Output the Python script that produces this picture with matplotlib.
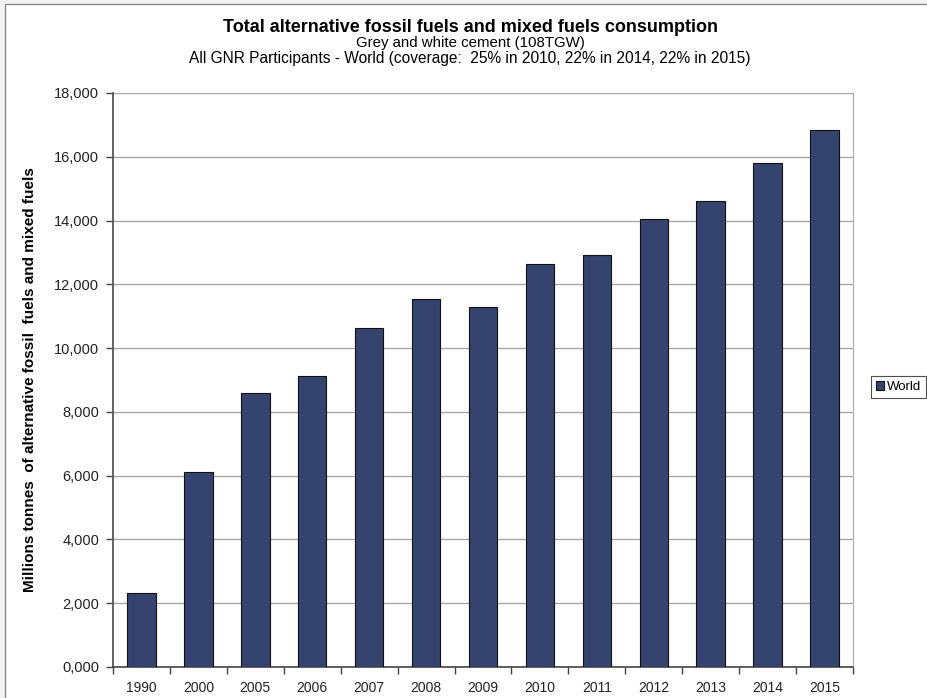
import matplotlib
matplotlib.use("Agg")
import matplotlib.pyplot as plt
from matplotlib.patches import Rectangle
from matplotlib.ticker import FixedLocator

plt.rcParams['font.family'] = ['Liberation Sans', 'DejaVu Sans']

years = ["1990", "2000", "2005", "2006", "2007", "2008", "2009",
         "2010", "2011", "2012", "2013", "2014", "2015"]
world = [2320, 6100, 8585, 9125, 10625, 11530, 11280,
         12640, 12930, 14040, 14620, 15790, 16840]
y_ticks = [0, 2000, 4000, 6000, 8000, 10000, 12000, 14000, 16000, 18000]
y_labels = ["0,000", "2,000", "4,000", "6,000", "8,000", "10,000",
            "12,000", "14,000", "16,000", "18,000"]

title = "Total alternative fossil fuels and mixed fuels consumption"
subtitle1 = "Grey and white cement (108TGW)"
subtitle2 = "All GNR Participants - World (coverage:  25% in 2010, 22% in 2014, 22% in 2015)"
ylabel = "Millions tonnes  of alternative fossil  fuels and mixed fuels"

W, H = 927, 698
fig = plt.figure(figsize=(W / 100, H / 100), dpi=100)
fig.patch.set_facecolor("#f3f3f3")

# white chart area with grey border
fig.patches.append(Rectangle((5 / W, -0.01), 1.0, (H - 4) / H + 0.01,
                             transform=fig.transFigure, facecolor="white",
                             edgecolor="#8c8c8c", linewidth=1.0, zorder=-5))

ax = fig.add_axes([113 / W, (H - 667) / H, (853 - 113) / W, (667 - 93) / H])
ax.set_zorder(3)
ax.set_facecolor("white")

x = list(range(len(years)))
ax.bar(x, world, width=0.5, color="#34446e", edgecolor="#111111",
       linewidth=0.8, label="World", zorder=3)

ax.set_xlim(-0.5, len(years) - 0.5)
ax.set_ylim(0, 18000)
ax.set_yticks(y_ticks)
ax.set_yticklabels(y_labels, fontsize=10.5, color="#222222")
ax.yaxis.grid(True, color="#a8a8a8", linewidth=1.0, zorder=0)

ax.set_xticks(x)
ax.set_xticklabels(years, fontsize=10, color="#222222")
ax.tick_params(axis='x', which='major', length=0, pad=10)
ax.xaxis.set_minor_locator(FixedLocator([i - 0.5 for i in range(len(years) + 1)]))
ax.tick_params(axis='x', which='minor', length=5, width=1, color="#444444", direction='out')
ax.tick_params(axis='y', length=5, width=1, color="#444444", direction='out', pad=5)

ax.spines["top"].set_visible(False)
ax.spines["right"].set_color("#a8a8a8")
ax.spines["left"].set_color("#555555")
ax.spines["left"].set_linewidth(1.3)
ax.spines["bottom"].set_color("#444444")
ax.spines["bottom"].set_linewidth(1.2)

ax.set_ylabel(ylabel, fontsize=11, fontweight="bold")
ax.yaxis.set_label_coords((37 - 113) / 740, 0.5)

cx = 470 / W
fig.text(cx, 1 - 28 / H, title, ha="center", va="center",
         fontsize=13, fontweight="bold")
fig.text(cx, 1 - 43 / H, subtitle1, ha="center", va="center", fontsize=10.8)
fig.text(cx, 1 - 59 / H, subtitle2, ha="center", va="center", fontsize=11.2)

leg = ax.legend(loc="center left", bbox_to_anchor=(871 / W, 1 - 387 / H),
                bbox_transform=fig.transFigure, fontsize=9.5, frameon=True,
                fancybox=False, edgecolor="#222222", handlelength=0.6,
                handleheight=0.6, handletextpad=0.2, borderpad=0.4,
                borderaxespad=0)
leg.get_frame().set_linewidth(0.8)

fig.savefig("out.png", dpi=100, facecolor=fig.get_facecolor())
